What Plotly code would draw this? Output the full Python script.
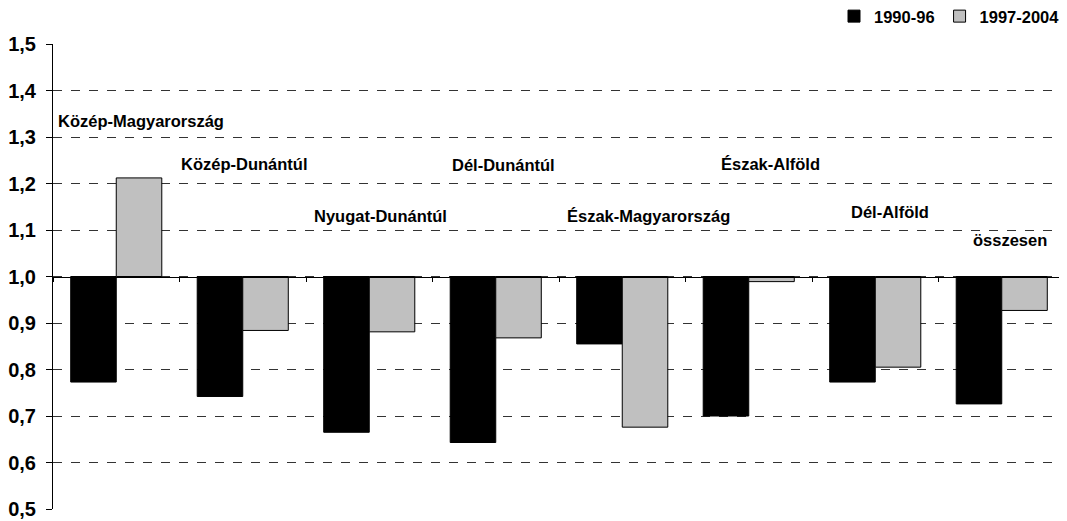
import plotly.graph_objects as go

regions = ["Közép-Magyarország", "Közép-Dunántúl", "Nyugat-Dunántúl", "Dél-Dunántúl",
           "Észak-Magyarország", "Észak-Alföld", "Dél-Alföld", "összesen"]
series_names = ["1990-96", "1997-2004"]
values_1990_96 = [0.773, 0.742, 0.665, 0.643, 0.855, 0.700, 0.773, 0.726]
values_1997_2004 = [1.212, 0.884, 0.881, 0.868, 0.676, 0.989, 0.805, 0.927]
base_value = 1.0
tick_values = [0.5, 0.6, 0.7, 0.8, 0.9, 1.0, 1.1, 1.2, 1.3, 1.4, 1.5]
tick_labels = ["0,5", "0,6", "0,7", "0,8", "0,9", "1,0", "1,1", "1,2", "1,3", "1,4", "1,5"]
label_y = [1.335, 1.242, 1.130, 1.240, 1.130, 1.242, 1.139, 1.078]
label_xshift = [-60, 1, 11, 8, 26, 22, 15, 8]

FONT = "Liberation Sans, Arial, sans-serif"

fig = go.Figure()
for name, vals, color in [(series_names[0], values_1990_96, "#000000"),
                          (series_names[1], values_1997_2004, "#C0C0C0")]:
    fig.add_trace(go.Bar(
        x=regions,
        y=[v - base_value for v in vals],
        base=base_value,
        name="<b>%s</b>" % name,
        marker=dict(color=color, line=dict(color="#000000", width=1)),
        customdata=vals,
        hovertemplate="%{x}: %{customdata}<extra>" + name + "</extra>",
    ))

for i, (r, yv) in enumerate(zip(regions, label_y)):
    fig.add_annotation(
        x=r, y=yv, text="<b>%s</b>" % r, showarrow=False,
        xanchor="left" if i == 0 else "center", yanchor="middle",
        xshift=label_xshift[i],
        font=dict(family=FONT, size=16.5, color="#000000"),
    )

# the page body adds an 8px margin, so the figure is sized/offset to compensate
fig.update_layout(
    width=1059, height=513,
    margin=dict(l=45, r=2, t=36, b=12, autoexpand=False),
    paper_bgcolor="white", plot_bgcolor="white",
    barmode="group", bargap=0.28, bargroupgap=0,
    font=dict(family=FONT, color="#000000"),
    showlegend=True,
    legend=dict(orientation="h", x=1.0, xanchor="right", y=1.097, yanchor="top",
                yref="paper", xref="paper", itemwidth=30, traceorder="normal",
                bgcolor="rgba(0,0,0,0)",
                font=dict(family=FONT, size=16.5, color="#000000")),
    xaxis=dict(
        type="category", showgrid=False, showticklabels=False,
        showline=True, linecolor="#000000", linewidth=1,
        ticks="outside", tickson="boundaries", ticklen=4, tickcolor="#000000",
        anchor="free", position=0.5, zeroline=False, automargin=False,
    ),
    yaxis=dict(
        range=[0.5, 1.5], tickvals=tick_values, ticktext=["<b>%s</b>" % t for t in tick_labels],
        tickfont=dict(family=FONT, size=20, color="#000000"),
        showgrid=True, gridcolor="#333333", griddash="dash", gridwidth=1,
        showline=True, linecolor="#000000", linewidth=1,
        ticks="outside", ticklen=6, tickcolor="#000000",
        zeroline=False, ticklabelstandoff=6, automargin=False,
    ),
)

fig.write_html("out.html")
